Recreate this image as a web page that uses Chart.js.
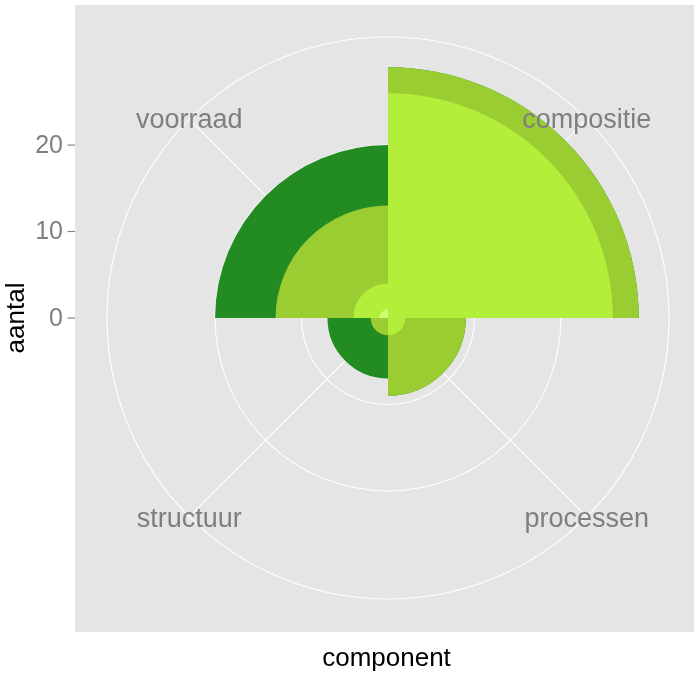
<!DOCTYPE html>
<html><head><meta charset="utf-8">
<script src="https://cdn.jsdelivr.net/npm/chart.js@4/dist/chart.umd.min.js"></script>
<style>html,body{margin:0;padding:0;background:#fff;overflow:hidden}</style>
</head><body>
<canvas id="c" width="694" height="676"></canvas>
<script>
// ---- data ----
const categories = ['compositie', 'processen', 'structuur', 'voorraad'];
const seriesForest = [0, 0, 5, 7];      // outermost stack segment
const seriesYellowGreen = [3, 7, 2, 9];
const seriesOliveDrab = [26, 2, 0, 3];
const seriesPale = [0, 0, 0, 1];        // innermost stack segment
const radialTickValues = [0, 10, 20];
const gridCircleValues = [10, 20];
const xAxisTitle = 'component';
const yAxisTitle = 'aantal';

// ---- styles ----
const rMax = 32.5;
const colors = { forest: '#228B22', yellowGreen: '#9ACD32', oliveDrab: '#B3EE3A', pale: '#CAFF70' };
const FONT = '"Liberation Sans", Arial, Helvetica, sans-serif';
const panel = { left: 75, top: 5, right: 694, bottom: 632 };

// stacking (ggplot position_stack): cumulative sums, innermost first
const stackInner = seriesPale.slice();
const stack3 = stackInner.map((v, i) => v + seriesOliveDrab[i]);
const stack2 = stack3.map((v, i) => v + seriesYellowGreen[i]);
const stackTotal = stack2.map((v, i) => v + seriesForest[i]);

const ggPlugin = {
  id: 'ggpolar',
  beforeDraw(chart) {
    const ctx = chart.ctx;
    ctx.save();
    ctx.fillStyle = '#E5E5E5';
    ctx.fillRect(panel.left, panel.top, panel.right - panel.left, panel.bottom - panel.top);
    ctx.restore();
  },
  beforeDatasetsDraw(chart) {
    const ctx = chart.ctx, s = chart.scales.r;
    const cx = s.xCenter, cy = s.yCenter;
    const R = s.getDistanceFromCenterForValue(rMax);
    ctx.save();
    ctx.strokeStyle = '#FFFFFF';
    ctx.lineWidth = 1.1;
    [...gridCircleValues, rMax].forEach(v => {
      const r = s.getDistanceFromCenterForValue(v);
      ctx.beginPath(); ctx.arc(cx, cy, r, 0, Math.PI * 2); ctx.stroke();
    });
    categories.forEach((c, i) => {
      const th = (i + 0.5) * Math.PI / 2;
      ctx.beginPath();
      ctx.moveTo(cx, cy);
      ctx.lineTo(cx + R * Math.sin(th), cy - R * Math.cos(th));
      ctx.stroke();
    });
    ctx.restore();
  },
  afterDraw(chart) {
    const ctx = chart.ctx, s = chart.scales.r;
    const cx = s.xCenter, cy = s.yCenter;
    const R = s.getDistanceFromCenterForValue(rMax);
    ctx.save();
    // category labels
    ctx.fillStyle = '#7F7F7F';
    ctx.font = '27px ' + FONT;
    ctx.textAlign = 'center';
    ctx.textBaseline = 'alphabetic';
    categories.forEach((c, i) => {
      const th = (i + 0.5) * Math.PI / 2;
      const x = cx + R * Math.sin(th);
      const y = cy - R * Math.cos(th);
      ctx.fillText(c, x, y + (Math.cos(th) > 0 ? 8.5 : 10.5));
    });
    // radial axis ticks on the left
    ctx.font = '25px ' + FONT;
    ctx.textAlign = 'right';
    ctx.textBaseline = 'middle';
    ctx.strokeStyle = '#7F7F7F';
    ctx.lineWidth = 1.1;
    radialTickValues.forEach(v => {
      const y = cy - s.getDistanceFromCenterForValue(v);
      ctx.fillText(String(v), 63, y + 1);
      ctx.beginPath(); ctx.moveTo(67.5, y); ctx.lineTo(75, y); ctx.stroke();
    });
    // axis titles
    ctx.fillStyle = '#000000';
    ctx.font = '26px ' + FONT;
    ctx.textAlign = 'center';
    ctx.textBaseline = 'alphabetic';
    ctx.fillText(xAxisTitle, 386.5, 666);
    ctx.translate(24, 318);
    ctx.rotate(-Math.PI / 2);
    ctx.fillText(yAxisTitle, 0, 0);
    ctx.restore();
  }
};

new Chart(document.getElementById('c'), {
  type: 'polarArea',
  data: {
    labels: categories,
    datasets: [
      { data: stackInner, backgroundColor: colors.pale, borderWidth: 0 },
      { data: stack3, backgroundColor: colors.oliveDrab, borderWidth: 0 },
      { data: stack2, backgroundColor: colors.yellowGreen, borderWidth: 0 },
      { data: stackTotal, backgroundColor: colors.forest, borderWidth: 0 }
    ]
  },
  options: {
    responsive: false,
    animation: false,
    layout: { padding: { left: 107, top: 37, right: 25, bottom: 77 } },
    plugins: { legend: { display: false }, tooltip: { enabled: false } },
    elements: { arc: { borderWidth: 0 } },
    scales: {
      r: {
        min: 0,
        max: rMax,
        startAngle: 0,
        ticks: { display: false },
        grid: { display: false },
        angleLines: { display: false },
        pointLabels: { display: false }
      }
    }
  },
  plugins: [ggPlugin]
});
</script>
</body></html>
